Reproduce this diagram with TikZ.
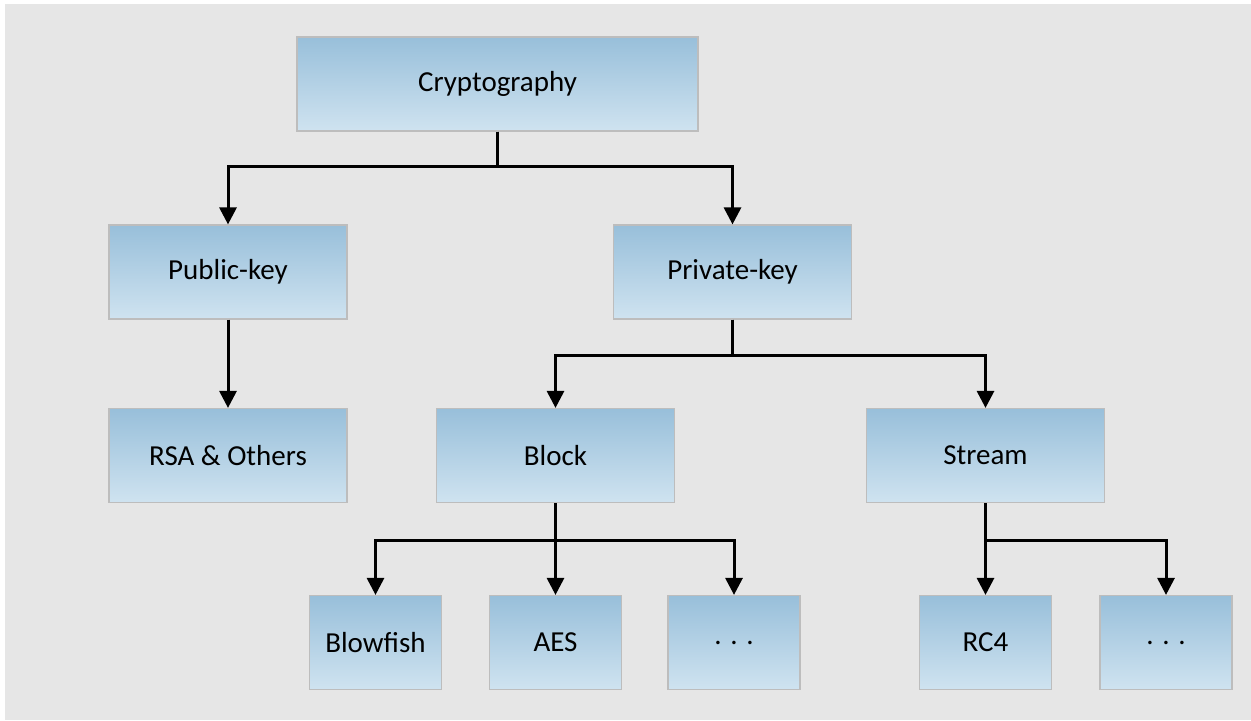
\documentclass[tikz,border=0pt]{standalone}
\usepackage{fontspec}
\setmainfont{Carlito}
\usetikzlibrary{arrows.meta}

\definecolor{boxtop}{HTML}{98BFDA}
\definecolor{boxbottom}{HTML}{CFE3F0}
\definecolor{boxline}{HTML}{BDBDBD}
\definecolor{backgr}{HTML}{E6E6E6}

\tikzset{
  box/.style={draw=boxline, line width=0.6pt, top color=boxtop, bottom color=boxbottom,
    minimum height=47pt, inner sep=0pt, font=\fontsize{14.5}{17}\selectfont},
  wide/.style={box, minimum width=200.5pt},
  mid/.style={box, minimum width=119pt},
  small/.style={box, minimum width=66pt},
  link/.style={line width=1.5pt, -{Triangle[length=8.5pt,width=8.5pt]}}
}

\begin{document}
\begin{tikzpicture}[x=0.5pt,y=-0.5pt]
\useasboundingbox (0,0) rectangle (1251,720);
\fill[backgr] (5,4) rectangle (1251,720);

% Boxes
\node[wide] (crypto) at (497.5,84)  {Cryptography};
\node[mid]  (pub)    at (228,272)   {Public-key};
\node[mid]  (priv)   at (732.5,272) {Private-key};
\node[mid]  (rsa)    at (228,455.5) {RSA \& Others};
\node[mid]  (block)  at (555.5,455.5) {Block};
\node[mid]  (stream) at (985.5,455.5) {Stream};
\node[small] (blow)  at (375.5,642.5) {Blowfish};
\node[small] (aes)   at (555.5,642.5) {AES};
\node[small] (moreA) at (734,642.5) {. . .};
\node[small] (rc4)   at (985.5,642.5) {RC4};
\node[small] (moreB) at (1166,642.5) {. . .};

% Links
\draw[link] (crypto.south) -- (crypto.south |- 0,166) -| (pub.north);
\draw[link] (crypto.south) -- (crypto.south |- 0,166) -| (priv.north);
\draw[link] (pub) -- (rsa);
\draw[link] (priv.south) -- (priv.south |- 0,355) -| (block.north);
\draw[link] (priv.south) -- (priv.south |- 0,355) -| (stream.north);
\draw[link] (block.south) -- (block.south |- 0,540) -| (blow.north);
\draw[link] (block.south) -- (aes.north);
\draw[link] (block.south) -- (block.south |- 0,540) -| (moreA.north);
\draw[link] (stream.south) -- (rc4.north);
\draw[link] (stream.south) -- (stream.south |- 0,540) -| (moreB.north);
\end{tikzpicture}
\end{document}
